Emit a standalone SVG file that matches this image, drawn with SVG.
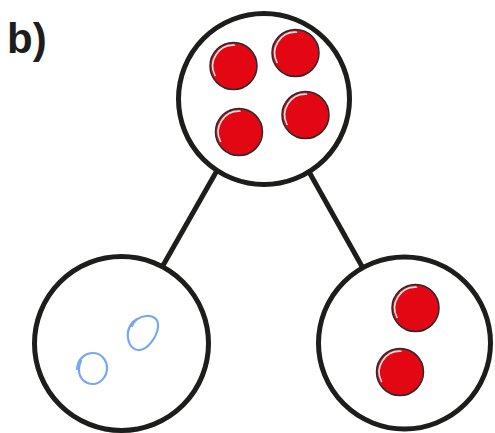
<svg xmlns="http://www.w3.org/2000/svg" xmlns:xlink="http://www.w3.org/1999/xlink" width="495" height="433" viewBox="0 0 495 433">
<style>
.node{fill:#fff;stroke:#1d1d1b;stroke-width:5}
.edge{stroke:#1d1d1b;stroke-width:5;fill:none}
.ball{fill:#e30613;stroke:#2a2a2a;stroke-width:1.5}
.hl{fill:none;stroke:#fff;stroke-width:1.6;stroke-linecap:round;opacity:0.9}
.scribble{fill:none;stroke:#78a6f2;stroke-width:2.2;stroke-linecap:round;stroke-linejoin:round}
.label{font-family:"Liberation Sans",Arial,sans-serif;font-weight:bold;font-size:42px;fill:#1d1d1b}
</style>
<defs>
<g id="dot">
<circle class="ball" r="23.5"/>
<path class="hl" d="M-18.5,9.5 A20.8,20.8 0 0 1 1,-20.8"/>
</g>
</defs>
<rect width="495" height="433" fill="#fff"/>
<text class="label" x="7" y="53">b)</text>
<g id="connectors">
<line class="edge" x1="219" y1="167" x2="161" y2="269"/>
<line class="edge" x1="308" y1="170" x2="364" y2="270"/>
</g>
<g id="top">
<circle class="node" cx="264" cy="99" r="85.5"/>
<use xlink:href="#dot" href="#dot" x="233.5" y="66"/>
<use xlink:href="#dot" href="#dot" x="295.5" y="53"/>
<use xlink:href="#dot" href="#dot" x="239" y="132"/>
<use xlink:href="#dot" href="#dot" x="305.5" y="115"/>
</g>
<g id="left">
<circle class="node" cx="121.5" cy="343.5" r="87"/>
<path class="scribble" d="M77,369 C78,358 86,353 93,353 C101,353 107,360 107,368 C107,377 100,384 93,384 C85,384 79,378 79,370 C79,366 80,363 81,361"/>
<path class="scribble" d="M132,326 C134,321 139,317 146,316 C153,315 159,319 158,327 C157,337 147,351 138,350 C130,349 127,340 128,332 C129,326 132,322 137,319"/>
</g>
<g id="right">
<circle class="node" cx="404.5" cy="343" r="86"/>
<use xlink:href="#dot" href="#dot" x="415.5" y="308"/>
<use xlink:href="#dot" href="#dot" x="400" y="372"/>
</g>
</svg>
